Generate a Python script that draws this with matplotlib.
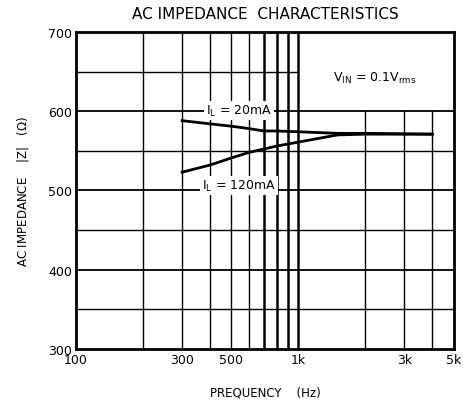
import numpy as np
import matplotlib.pyplot as plt

# data
freq_20 = [300, 400, 500, 600, 700, 800, 1000, 1500, 2000, 4000]
z_20 = [588, 584, 581, 578, 575, 575, 574, 572, 572, 571]
freq_120 = [300, 400, 500, 600, 800, 1000, 1500, 2000, 4000]
z_120 = [523, 532, 541, 548, 556, 561, 570, 571, 571]

xticks = [100, 300, 500, 1000, 3000, 5000]
xticklabels = ['100', '300', '500', '1k', '3k', '5k']
yticks = [300, 400, 500, 600, 700]

vgrid_thin = [200, 300, 400, 500, 600]
vgrid_thick = [700, 800, 900, 1000]
vgrid_right = [2000, 3000, 4000]
hgrid_main = [400, 500, 600]
hgrid_minor = [350, 450, 550]

plt.rcParams['font.family'] = ['DejaVu Sans']

fig = plt.figure(figsize=(4.64, 4.06), dpi=100)
ax = fig.add_axes([0.164, 0.138, 0.814, 0.781])
ax.set_xscale('log')
ax.set_xlim(100, 5000)
ax.set_ylim(300, 700)

for f in vgrid_thin:
    ax.axvline(f, color='black', lw=1.0, zorder=1)
for f in vgrid_thick:
    ax.axvline(f, color='black', lw=1.8, zorder=1)
# upper right corner is left blank for the V_IN note
ax.vlines(vgrid_right, 300, 600, color='black', lw=1.0, zorder=1)
for z in hgrid_main:
    ax.axhline(z, color='black', lw=1.3, zorder=1)
for z in hgrid_minor:
    ax.axhline(z, color='black', lw=1.0, zorder=1)
ax.hlines(650, 100, 1000, color='black', lw=1.0, zorder=1)

ax.plot(freq_20, z_20, color='black', lw=2.0, zorder=3)
ax.plot(freq_120, z_120, color='black', lw=2.0, zorder=3)

box = dict(facecolor='white', edgecolor='none', pad=1.5)
ax.text(540, 601, r'$\mathregular{I_L}$ = 20mA', ha='center', va='center',
        fontsize=9, bbox=box, zorder=4)
ax.text(540, 506, r'$\mathregular{I_L}$ = 120mA', ha='center', va='center',
        fontsize=9, bbox=box, zorder=4)
ax.text(2200, 642, r'$\mathregular{V_{IN}}$ = 0.1$\mathregular{V_{rms}}$', ha='center', va='center',
        fontsize=9, zorder=4)

ax.set_xticks(xticks)
ax.set_xticklabels(xticklabels)
ax.xaxis.set_minor_locator(plt.NullLocator())
ax.set_yticks(yticks)
ax.tick_params(length=0, labelsize=9, pad=3)
for s in ax.spines.values():
    s.set_linewidth(2.0)

ax.set_title('AC IMPEDANCE  CHARACTERISTICS', fontsize=11, pad=10)
ax.set_xlabel('PREQUENCY    (Hz)', fontsize=8.5, labelpad=14)
ax.set_ylabel(r'AC IMPEDANCE    |Z|   ($\Omega$)', fontsize=8.5, labelpad=12)

fig.savefig('out.png', dpi=100)
